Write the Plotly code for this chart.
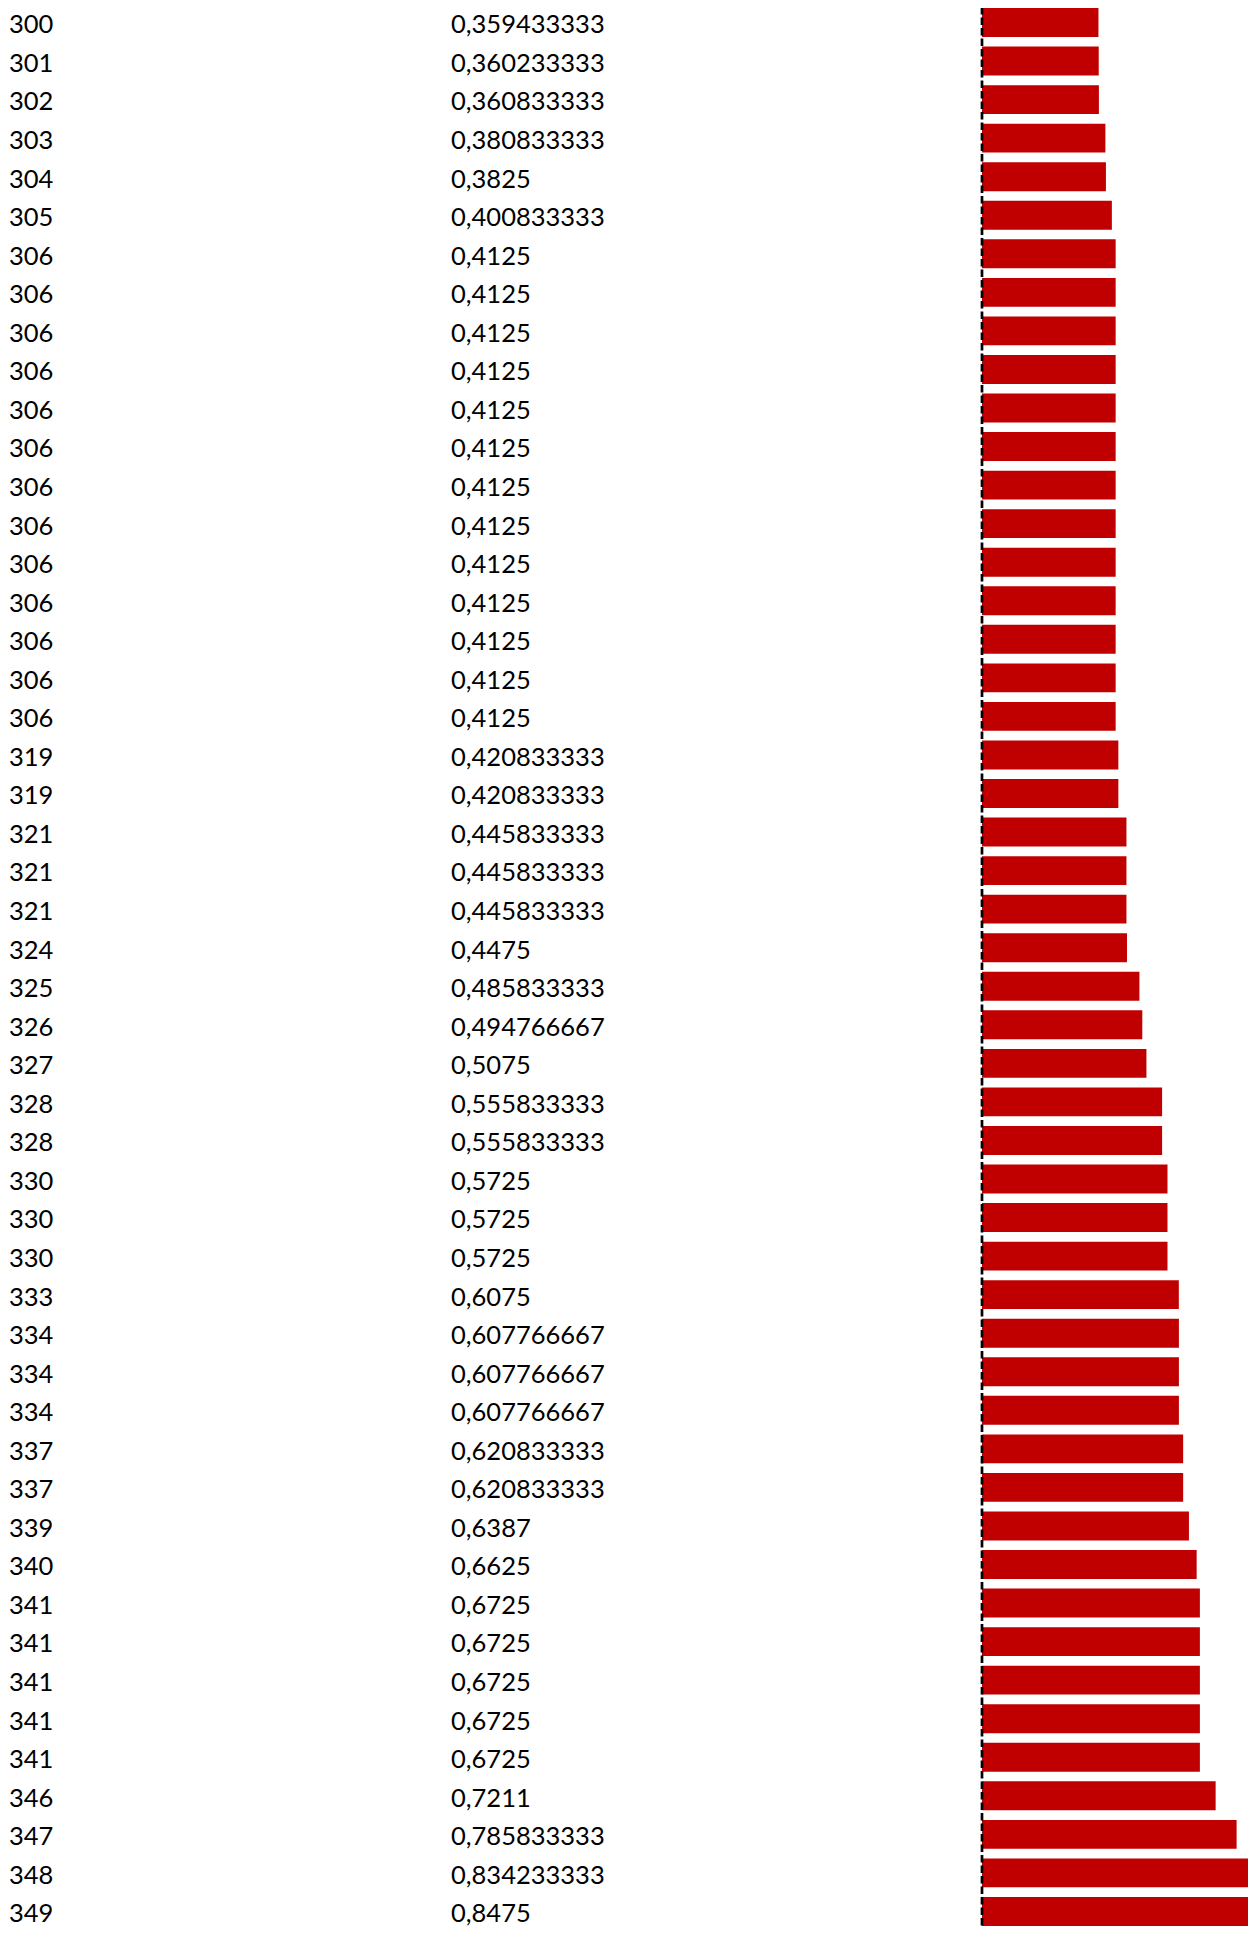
import plotly.graph_objects as go

# rank labels (left column) and scores (value column + bar length)
ranks = [300, 301, 302, 303, 304, 305,
         306, 306, 306, 306, 306, 306, 306, 306, 306, 306, 306, 306, 306,
         319, 319, 321, 321, 321, 324, 325, 326, 327, 328, 328,
         330, 330, 330, 333, 334, 334, 334, 337, 337, 339, 340,
         341, 341, 341, 341, 341, 346, 347, 348, 349]
scores = [0.359433333, 0.360233333, 0.360833333, 0.380833333, 0.3825, 0.400833333,
          0.4125, 0.4125, 0.4125, 0.4125, 0.4125, 0.4125, 0.4125, 0.4125, 0.4125,
          0.4125, 0.4125, 0.4125, 0.4125,
          0.420833333, 0.420833333, 0.445833333, 0.445833333, 0.445833333, 0.4475,
          0.485833333, 0.494766667, 0.5075, 0.555833333, 0.555833333,
          0.5725, 0.5725, 0.5725, 0.6075, 0.607766667, 0.607766667, 0.607766667,
          0.620833333, 0.620833333, 0.6387, 0.6625,
          0.6725, 0.6725, 0.6725, 0.6725, 0.6725, 0.7211, 0.785833333, 0.834233333, 0.8475]

rows = list(range(len(ranks)))
score_text = [str(v).replace('.', ',') for v in scores]

# page body has an 8px margin, so the figure is kept inside the window
W, H = 1240, 1918
BAR_X0 = 974          # zero of the bar axis, in figure pixels
PX_PER_UNIT = 324.0
PAD = 6               # room left of zero so the dashed line is not clipped
TEXT_FONT = dict(family='Lato, Open Sans, sans-serif', size=25.5, color='#000000')

row_pitch = 38.55
first_center = 14.5   # centre of the first bar, figure pixels
text_drop = 4.5       # text sits a little lower than the bar centre
y_top = -first_center / row_pitch
y_bot = (H - first_center) / row_pitch

fig = go.Figure()

fig.add_trace(go.Bar(
    x=scores,
    y=rows,
    orientation='h',
    marker=dict(color='#C00000', line=dict(width=0)),
    width=0.75,
    xaxis='x',
    yaxis='y',
    hoverinfo='skip',
))

# text columns drawn on a pixel-scaled helper axis
fig.add_trace(go.Scatter(
    x=[1] * len(rows), y=rows, text=[str(r) for r in ranks],
    mode='text', textposition='middle right', textfont=TEXT_FONT,
    xaxis='x2', yaxis='y2', hoverinfo='skip', cliponaxis=False,
))
fig.add_trace(go.Scatter(
    x=[443] * len(rows), y=rows, text=score_text,
    mode='text', textposition='middle right', textfont=TEXT_FONT,
    xaxis='x2', yaxis='y2', hoverinfo='skip', cliponaxis=False,
))

# dashed zero line
fig.add_shape(
    type='line', xref='x', yref='y',
    x0=0, x1=0, y0=-0.4, y1=y_bot,
    line=dict(color='#000000', width=2.7, dash='7.5px,3px'),
    layer='above',
)

fig.update_layout(
    width=W, height=H,
    margin=dict(l=0, r=0, t=0, b=0),
    paper_bgcolor='#FFFFFF',
    plot_bgcolor='#FFFFFF',
    showlegend=False,
    xaxis=dict(domain=[(BAR_X0 - PAD) / W, 1],
               range=[-PAD / PX_PER_UNIT, (W - BAR_X0) / PX_PER_UNIT],
               visible=False, showgrid=False, zeroline=False),
    xaxis2=dict(domain=[0, (BAR_X0 - PAD) / W], range=[0, BAR_X0 - PAD],
                visible=False, showgrid=False, zeroline=False),
    yaxis=dict(range=[y_bot, y_top], visible=False,
               showgrid=False, zeroline=False),
    yaxis2=dict(range=[y_bot - text_drop / row_pitch, y_top - text_drop / row_pitch],
                overlaying='y', visible=False, showgrid=False, zeroline=False),
)

fig.write_html("out.html")
